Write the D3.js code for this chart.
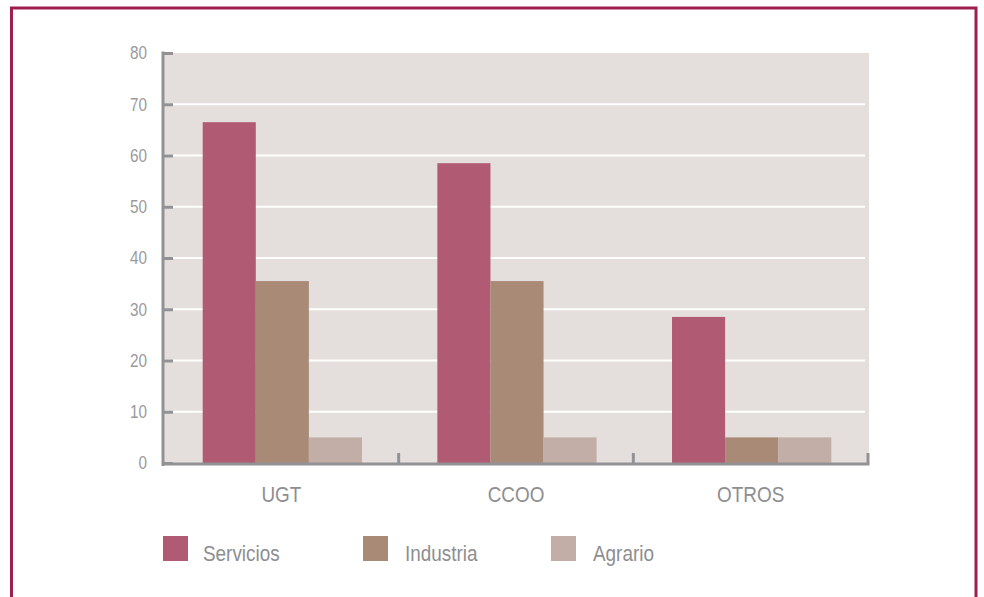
<!DOCTYPE html>
<html>
<head>
<meta charset="utf-8">
<script src="https://cdn.jsdelivr.net/npm/d3@7"></script>
<style>
	body { margin: 0; background: #fff; }
	svg { display: block; font-family: "Liberation Sans", Arial, sans-serif; }
</style>
</head>
<body>
<svg id="wrapper" width="984" height="597"></svg>
<script>
let categories = ["UGT", "CCOO", "OTROS"];
let seriesNames = ["Servicios", "Industria", "Agrario"];
let servicios = [66.5, 58.5, 28.5];
let industria = [35.5, 35.5, 5];
let agrario = [5, 5, 5];
let yTicks = [0, 10, 20, 30, 40, 50, 60, 70, 80];
let seriesColors = ["#b05a73", "#a98a76", "#c2aea6"];

let rows = categories.map((c, i) => ({
	cat: c,
	values: [servicios[i], industria[i], agrario[i]]
}));

let svg = d3.select("#wrapper");

// outer frame
svg.append("rect")
	.attr("x", 11.5).attr("y", 8)
	.attr("width", 964.5).attr("height", 620)
	.attr("fill", "none")
	.attr("stroke", "#9e1f4e")
	.attr("stroke-width", 3);

const plotLeft = 164, plotRight = 868, plotTop = 53, plotBottom = 463;

let x0 = d3.scaleBand().domain(categories).range([plotLeft, plotRight]).padding(0);
let x1 = d3.scaleBand().domain(seriesNames).range([1, x0.bandwidth() + 1])
	.paddingInner(0).paddingOuter(0.71);
let y = d3.scaleLinear().domain([0, 80]).range([plotBottom, plotTop]);
let color = d3.scaleOrdinal().domain(seriesNames).range(seriesColors);

// plot background
svg.append("rect")
	.attr("x", plotLeft).attr("y", plotTop)
	.attr("width", plotRight - plotLeft + 1).attr("height", plotBottom - plotTop)
	.attr("fill", "#e4dfdd");

// gridlines
svg.append("g")
	.selectAll("line")
	.data(yTicks.filter((t) => t > 0 && t < 80))
	.enter()
	.append("line")
	.attr("x1", plotLeft).attr("x2", plotRight - 3)
	.attr("y1", (d) => y(d)).attr("y2", (d) => y(d))
	.attr("stroke", "#fff")
	.attr("stroke-width", 2);

// bars
svg.append("g")
	.selectAll("g")
	.data(rows)
	.enter()
	.append("g")
	.attr("transform", (d) => "translate(" + x0(d.cat) + ",0)")
	.selectAll("rect")
	.data((d) => d.values.map((v, i) => ({ key: seriesNames[i], value: v })))
	.enter()
	.append("rect")
	.attr("x", (d) => x1(d.key))
	.attr("width", x1.bandwidth())
	.attr("y", (d) => y(d.value))
	.attr("height", (d) => y(0) - y(d.value))
	.attr("fill", (d) => color(d.key));

// y axis
let yAxis = svg.append("g")
	.attr("transform", "translate(" + plotLeft + ",0)")
	.call(d3.axisRight(y).tickValues(yTicks).tickSize(9).tickFormat(""));
yAxis.select(".domain").remove();
yAxis.selectAll(".tick line").attr("stroke", "#929296").attr("stroke-width", 3);
svg.append("line")
	.attr("x1", plotLeft - 1).attr("x2", plotLeft - 1)
	.attr("y1", plotTop - 1.5).attr("y2", plotBottom + 3)
	.attr("stroke", "#929296").attr("stroke-width", 3);

svg.append("g")
	.selectAll("text")
	.data(yTicks)
	.enter()
	.append("text")
	.attr("transform", (d) => "translate(147," + y(d) + ") scale(0.85,1)")
	.attr("dy", "0.36em")
	.attr("text-anchor", "end")
	.attr("fill", "#9a9a9c")
	.style("font-size", "18px")
	.text((d) => d);

// x axis
svg.append("line")
	.attr("x1", plotLeft - 2).attr("x2", plotRight + 1.5)
	.attr("y1", plotBottom + 1).attr("y2", plotBottom + 1)
	.attr("stroke", "#929296").attr("stroke-width", 3);
svg.append("g")
	.selectAll("line")
	.data(categories)
	.enter()
	.append("line")
	.attr("x1", (d) => x0(d) + x0.bandwidth())
	.attr("x2", (d) => x0(d) + x0.bandwidth())
	.attr("y1", plotBottom - 10).attr("y2", plotBottom)
	.attr("stroke", "#929296").attr("stroke-width", 3);

svg.append("g")
	.selectAll("text")
	.data(categories)
	.enter()
	.append("text")
	.attr("transform", (d) => "translate(" + (x0(d) + x0.bandwidth() / 2) + ",502) scale(0.86,1)")
	.attr("text-anchor", "middle")
	.attr("fill", "#8e8e90")
	.style("font-size", "22px")
	.text((d) => d);

// legend
let legendX = [163, 363, 551];
let legend = svg.append("g")
	.selectAll("g")
	.data(seriesNames)
	.enter()
	.append("g")
	.attr("transform", (d, i) => "translate(" + legendX[i] + ",536)");
legend.append("rect")
	.attr("width", 25).attr("height", 25)
	.attr("fill", (d) => color(d));
legend.append("text")
	.attr("transform", (d, i) => "translate(" + (i === 0 ? 40 : 42) + ",25) scale(0.86,1)")
	.attr("fill", "#8e8e90")
	.style("font-size", "22px")
	.text((d) => d);
</script>
</body>
</html>
